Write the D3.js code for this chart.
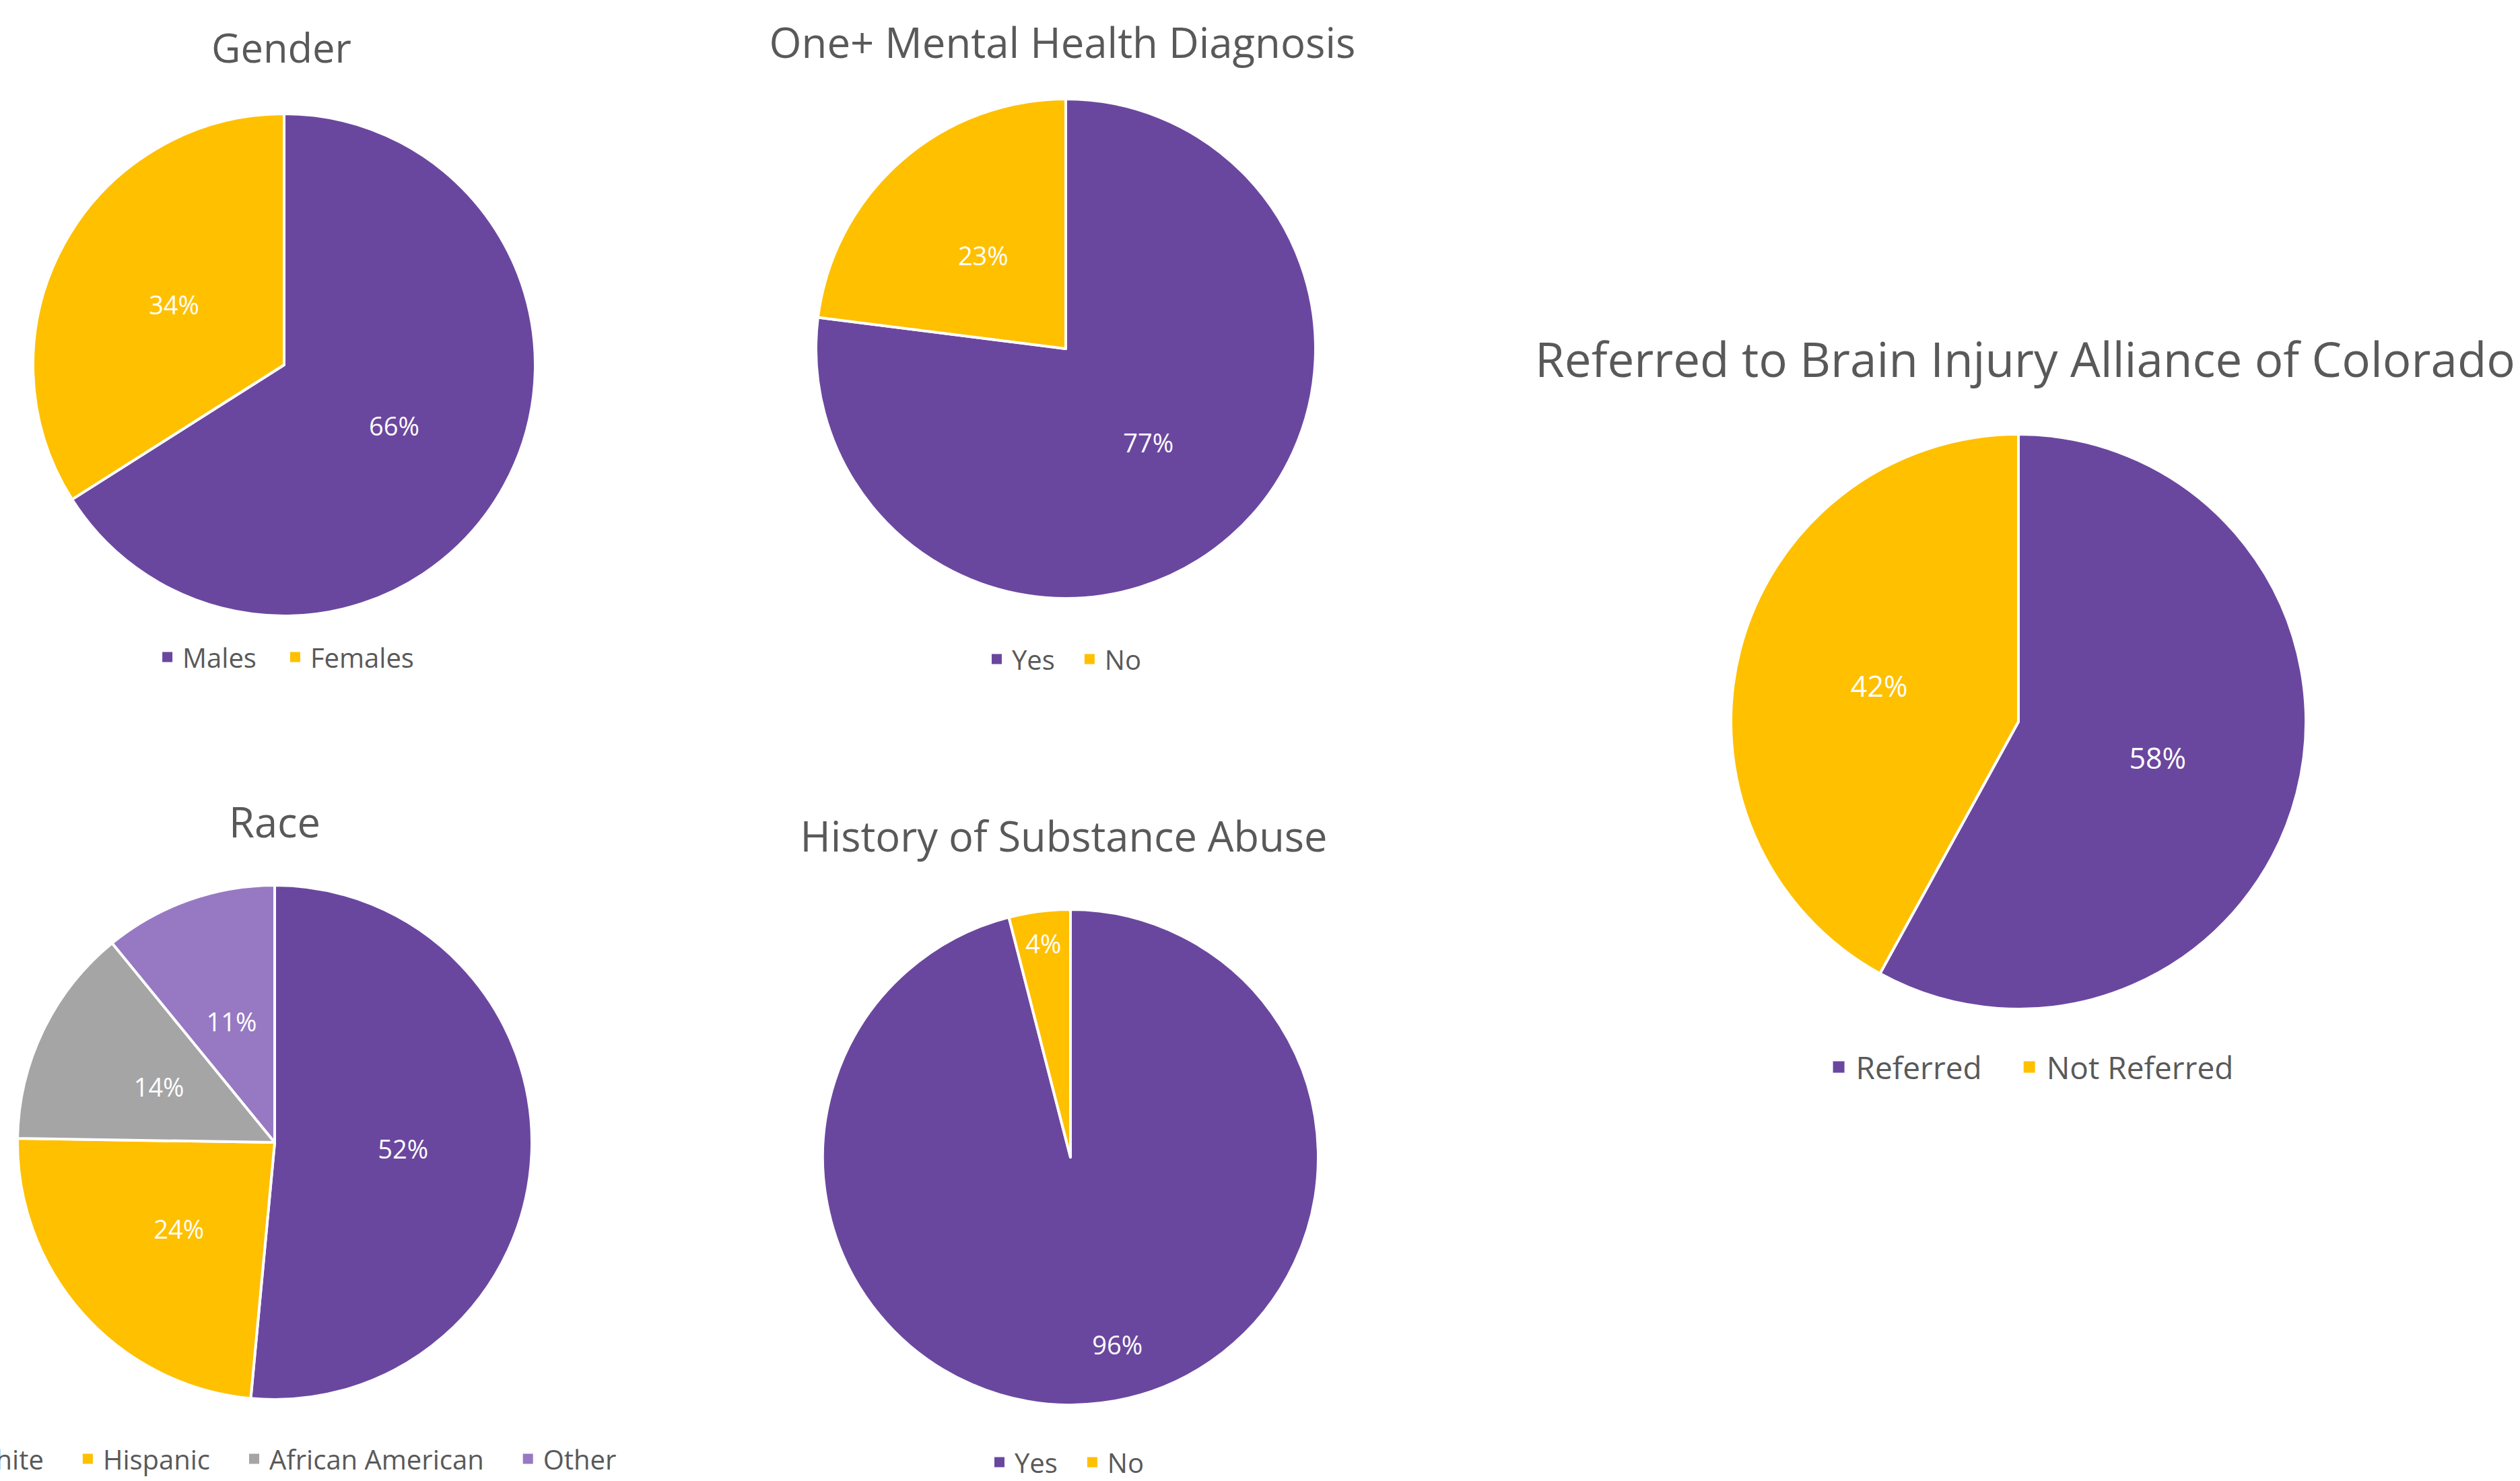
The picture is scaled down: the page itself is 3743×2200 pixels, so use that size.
<!DOCTYPE html>
<html>
<head>
<meta charset="utf-8">
<script src="https://cdn.jsdelivr.net/npm/d3@7"></script>
<style>
  html, body { margin: 0; padding: 0; background: #ffffff; }
  svg { display: block; }
</style>
</head>
<body>
<svg id="chart" width="3743" height="2200"></svg>
<script>
// ---- data ----
const genderLabels = ["Males", "Females"];
const genderValues = [66, 34];
const mentalLabels = ["Yes", "No"];
const mentalValues = [77, 23];
const raceLabels = ["White", "Hispanic", "African American", "Other"];
const raceValues = [52, 24, 14, 11];
const substanceLabels = ["Yes", "No"];
const substanceValues = [96, 4];
const referredLabels = ["Referred", "Not Referred"];
const referredValues = [58, 42];

const chartTitles = ["Gender", "One+ Mental Health Diagnosis", "Race", "History of Substance Abuse", "Referred to Brain Injury Alliance of Colorado"];

// ---- styles / layout ----
const PURPLE = "#6a479f", YELLOW = "#ffc000", GRAY = "#a5a5a5", LILAC = "#9679c2";
const TEXT = "#595959";
const FONT = "'Open Sans', 'Noto Sans', sans-serif";

// label placement: radius factor and angular nudge (radians) for Excel-like "best fit"
const layout = [
  { labels: genderLabels, values: genderValues, colors: [PURPLE, YELLOW], cx: 422, cy: 542, r: 373, tx: 418, ty: 69, tw: 208, ly: 976, lcx: 428, labelSize: 38, legendSize: 40, legendGap: 50, labelPlace: [[0.5, 0], [0.5, 0]] },
  { labels: mentalLabels, values: mentalValues, colors: [PURPLE, YELLOW], cx: 1583, cy: 518, r: 371, tx: 1578, ty: 62, tw: 871, ly: 979, lcx: 1584, labelSize: 38, legendSize: 40, legendGap: 44, labelPlace: [[0.5, 0], [0.5, 0]] },
  { labels: raceLabels, values: raceValues, colors: [PURPLE, YELLOW, GRAY, LILAC], cx: 408, cy: 1697, r: 382, tx: 408, ty: 1220, tw: 136, ly: 2167, lcx: 421, labelSize: 38, legendSize: 40, legendGap: 58, labelPlace: [[0.5, 0], [0.5, 0], [0.5, 0], [0.5, 0]] },
  { labels: substanceLabels, values: substanceValues, colors: [PURPLE, YELLOW], cx: 1590, cy: 1719, r: 368, tx: 1580, ty: 1241, tw: 783, ly: 2172, lcx: 1588, labelSize: 38, legendSize: 40, legendGap: 44, labelPlace: [[0.78, -0.12], [0.87, 0]] },
  { labels: referredLabels, values: referredValues, colors: [PURPLE, YELLOW], cx: 2998, cy: 1072, r: 427, tx: 3008, ty: 532, tw: 1456, ly: 1585, lcx: 3020, labelSize: 43, legendSize: 46, legendGap: 62, labelPlace: [[0.5, 0], [0.5, 0]] }
];

const svg = d3.select("#chart");

layout.forEach((c, i) => {
  const g = svg.append("g");

  // title, fitted to its target width
  const title = g.append("text")
    .attr("x", c.tx).attr("y", c.ty)
    .attr("text-anchor", "middle")
    .attr("dominant-baseline", "central")
    .attr("fill", TEXT)
    .style("font-family", FONT)
    .style("font-size", "60px")
    .text(chartTitles[i]);
  const w = title.node().getComputedTextLength();
  title.style("font-size", (60 * c.tw / w).toFixed(2) + "px");

  const color = d3.scaleOrdinal().domain(c.labels).range(c.colors);
  const pie = d3.pie().sort(null).value(d => d.value).startAngle(0).endAngle(2 * Math.PI);
  const data = pie(c.labels.map((l, k) => ({ label: l, value: c.values[k] })));
  const arc = d3.arc().innerRadius(0).outerRadius(c.r);

  const pg = g.append("g").attr("transform", `translate(${c.cx},${c.cy})`);
  pg.selectAll("path").data(data).join("path")
    .attr("d", arc)
    .attr("fill", d => color(d.data.label))
    .attr("stroke", "#ffffff")
    .attr("stroke-width", 4)
    .attr("stroke-linejoin", "round");

  pg.selectAll("text.lbl").data(data).join("text")
    .attr("class", "lbl")
    .attr("transform", (d, k) => {
      const [f, nudge] = c.labelPlace[k];
      const rr = c.r * f;
      const a = (d.startAngle + d.endAngle) / 2 + nudge;
      return `translate(${Math.sin(a) * rr},${-Math.cos(a) * rr})`;
    })
    .attr("text-anchor", "middle")
    .attr("dominant-baseline", "central")
    .attr("fill", "#ffffff")
    .style("font-family", FONT)
    .style("font-size", c.labelSize + "px")
    .text(d => d.data.value + "%");

  // legend
  const sq = Math.round(c.legendSize * 0.38);
  const sqGap = Math.round(c.legendSize * 0.38);
  const lg = g.append("g");
  const items = lg.selectAll("g").data(c.labels).join("g");
  items.append("rect")
    .attr("width", sq).attr("height", sq)
    .attr("y", -sq / 2)
    .attr("fill", d => color(d));
  items.append("text")
    .attr("x", sq + sqGap)
    .attr("dominant-baseline", "central")
    .attr("fill", TEXT)
    .style("font-family", FONT)
    .style("font-size", c.legendSize + "px")
    .text(d => d);
  let x = 0;
  const widths = [];
  items.each(function () {
    widths.push(this.getBBox().width);
  });
  items.attr("transform", (d, k) => {
    const t = `translate(${x},0)`;
    x += widths[k] + c.legendGap;
    return t;
  });
  const totalW = x - c.legendGap;
  lg.attr("transform", `translate(${c.lcx - totalW / 2},${c.ly})`);
});
</script>
</body>
</html>
